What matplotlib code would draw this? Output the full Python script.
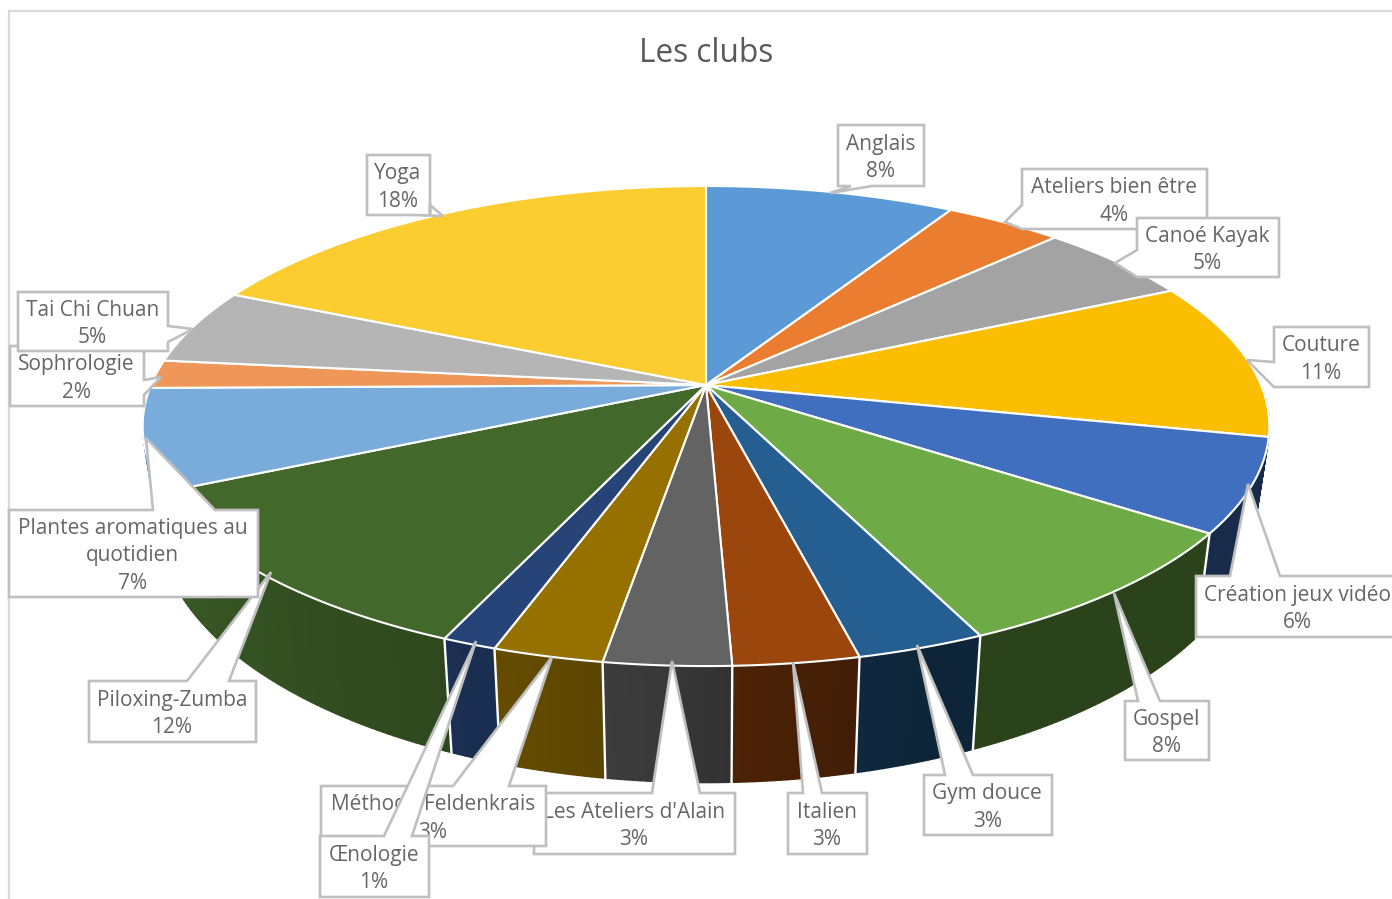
import numpy as np
import matplotlib
matplotlib.use("Agg")
import matplotlib.pyplot as plt
from matplotlib.patches import Polygon

plt.rcParams['font.family'] = ['Open Sans', 'DejaVu Sans']

clubs = ['Anglais', 'Ateliers bien être', 'Canoé Kayak', 'Couture', 'Création jeux vidéo',
         'Gospel', 'Gym douce', 'Italien', "Les Ateliers d'Alain", 'Méthode Feldenkrais',
         'Œnologie', 'Piloxing-Zumba', 'Plantes aromatiques au\nquotidien', 'Sophrologie',
         'Tai Chi Chuan', 'Yoga']
shares = [8.45, 4.0, 5.4, 10.6, 6.3, 8.4, 3.15, 3.08, 3.1, 2.7, 1.33, 11.5, 6.8, 1.9, 5.1, 18.2]
pct_labels = ['8%', '4%', '5%', '11%', '6%', '8%', '3%', '3%', '3%', '3%', '1%', '12%', '7%', '2%', '5%', '18%']
colors = ['#5B9AD6', '#EB7D30', '#A3A3A3', '#FBBE00', '#416FC0', '#6EAB46', '#255E91', '#9B460D',
          '#636363', '#967100', '#264478', '#43682B', '#79ACDB', '#EF9659', '#B5B5B5', '#FBCD30']

# label boxes: x0, y0, x1, y1, side of the pointer, two base points, tip
boxes = [
    (838, 125, 924, 186, 'bottom', (872, 186), (851, 186), (830, 193)),
    (1022, 169, 1207, 229, 'left', (1022, 229), (1022, 205), (1005, 222)),
    (1137, 218, 1279, 277, 'left', (1137, 277), (1137, 250), (1115, 263)),
    (1274, 327, 1369, 387, 'left', (1274, 387), (1274, 362), (1247, 360)),
    (1196, 576, 1400, 637, 'top', (1230, 576), (1280, 576), (1248, 484)),
    (1125, 701, 1209, 760, 'top', (1138, 701), (1160, 701), (1114, 593)),
    (924, 775, 1052, 835, 'top', (945, 775), (973, 775), (917, 645)),
    (788, 793, 867, 854, 'top', (803, 793), (822, 793), (793, 662)),
    (534, 793, 735, 854, 'top', (652, 793), (700, 793), (672, 661)),
    (321, 786, 546, 846, 'top', (453, 786), (509, 786), (552, 657)),
    (320, 836, 429, 897, 'top', (384, 836), (412, 836), (476, 641)),
    (89, 681, 256, 742, 'top', (187, 681), (229, 681), (271, 572)),
    (9, 510, 258, 597, 'top', (153, 510), (215, 510), (146, 438)),
    (10, 346, 144, 406, 'right', (144, 380), (144, 395), (161, 377)),
    (18, 292, 168, 351, 'right', (168, 326), (168, 342), (193, 329)),
    (367, 155, 430, 215, 'bottom', (430, 205), (415, 215), (443, 216)),
]

# how dark the side wall gets going round the pie
shade_angles = [90, 160, 175, 185, 195, 205, 250, 270]
shade_values = [0.39, 0.39, 0.47, 0.58, 0.65, 0.70, 0.88, 0.9]


def project(theta, top=True):
    # perspective view of the circle, theta clockwise from the top
    u, v = np.sin(theta), np.cos(theta)
    w = 1 + 0.171 * v
    if top:
        return 706 + 555 * u / w, 385 - 233 * v / w
    return 706 + 540 * u / w, 475 - 255 * v / w


def darker(color, f):
    return tuple(c * f for c in matplotlib.colors.to_rgb(color))


fig = plt.figure(figsize=(13.92, 8.99), dpi=100)
ax = fig.add_axes([0, 0, 1, 1])
ax.set_xlim(0, 1392)
ax.set_ylim(899, 0)
ax.axis('off')

ax.plot([9, 9, 1392], [899, 11, 11], color='#D9D9D9', lw=1.6, zorder=1)

edges = np.concatenate([[0], np.cumsum(shares)]) / np.sum(shares) * 2 * np.pi

# side walls, far strips first
strips = []
for i, color in enumerate(colors):
    steps = max(int(np.degrees(edges[i + 1] - edges[i]) / 0.6), 2)
    t = np.linspace(edges[i], edges[i + 1], steps + 1)
    for a, b in zip(t[:-1], t[1:]):
        strips.append((np.cos((a + b) / 2), a, b, color))
strips.sort(key=lambda s: -s[0])
for _, a, b, color in strips:
    deg = np.degrees((a + b) / 2)
    if deg < 90 or deg > 275:
        continue
    f = np.interp(deg, shade_angles, shade_values)
    x0, y0 = project(np.array([a, b]))
    x1, y1 = project(np.array([b, a]), top=False)
    c = darker(color, f)
    ax.fill(np.r_[x0, x1], np.r_[y0, y1], color=c, lw=1.0, zorder=2)

# white joints between the walls
for e in edges:
    if np.radians(120) < e < np.radians(260):
        x0, y0 = project(e)
        x1, y1 = project(e, top=False)
        ax.plot([x0, x1], [y0, y1], color='white', lw=1.7, zorder=3)

# top of the pie
for i, color in enumerate(colors):
    t = np.linspace(edges[i], edges[i + 1], 120)
    x, y = project(t)
    ax.fill(np.r_[706, x], np.r_[385, y], facecolor=color, edgecolor='white', lw=1.5,
            joinstyle='round', zorder=4)

# callouts, later ones sit over earlier ones
for i, (name, pct) in enumerate(zip(clubs, pct_labels)):
    x0, y0, x1, y1, side, p1, p2, tip = boxes[i]
    outline = {
        'top': [(x0, y0), p1, tip, p2, (x1, y0), (x1, y1), (x0, y1)],
        'right': [(x0, y0), (x1, y0), p1, tip, p2, (x1, y1), (x0, y1)],
        'bottom': [(x0, y0), (x1, y0), (x1, y1), p1, tip, p2, (x0, y1)],
        'left': [(x0, y0), (x1, y0), (x1, y1), (x0, y1), p1, tip, p2],
    }[side]
    z = 10 + i
    ax.add_patch(Polygon(outline, closed=True, facecolor='white', edgecolor='#BFBFBF', lw=1.9, zorder=z))
    ax.text((x0 + x1) / 2 - 0.7, (y0 + y1) / 2 + 2.5, name + '\n' + pct, ha='center', va='center',
            fontsize=15, color='#666666', linespacing=1.42, zorder=z)

ax.text(706, 54, 'Les clubs', ha='center', va='center', fontsize=22.7, color='#595959', zorder=5)

fig.savefig('out.png', dpi=100)
